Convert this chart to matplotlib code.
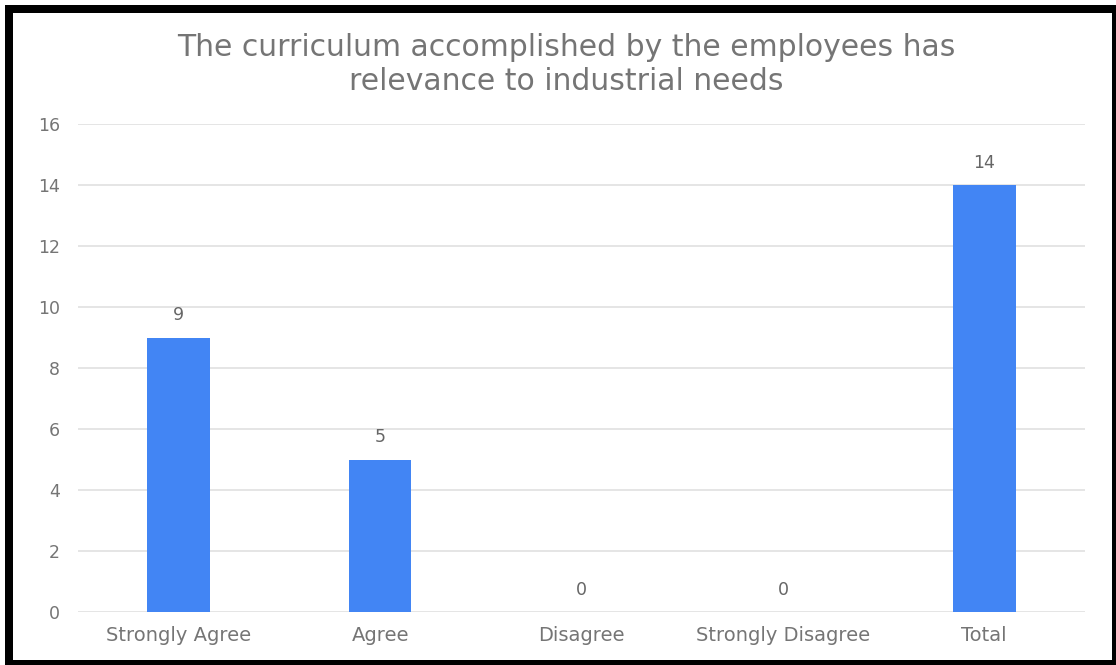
import matplotlib
matplotlib.use("Agg")
import matplotlib.pyplot as plt
from matplotlib.patches import Rectangle

categories = ["Strongly Agree", "Agree", "Disagree", "Strongly Disagree", "Total"]
values = [9, 5, 0, 0, 14]
yticks = [0, 2, 4, 6, 8, 10, 12, 14, 16]
title = "The curriculum accomplished by the employees has\nrelevance to industrial needs"

W, H = 1116, 665
fig = plt.figure(figsize=(W / 100, H / 100), dpi=100)
plt.rcParams['font.family'] = ['DejaVu Sans']

# outer black frame
fig.patches.append(Rectangle((5 / W, 0), 1 - 5 / W, (H - 5) / H, transform=fig.transFigure,
                             facecolor="black", edgecolor="none", zorder=-2))
fig.patches.append(Rectangle((13 / W, 5 / H), (1112 - 13) / W, (H - 13 - 5) / H,
                             transform=fig.transFigure, facecolor="white", edgecolor="none", zorder=-1))

left, right = 78 / W, 1085 / W
bottom, top = (H - 612) / H, (H - 124) / H
ax = fig.add_axes([left, bottom, right - left, top - bottom])
ax.set_facecolor("none")

x = list(range(len(categories)))
bar_color = "#4285F4"
text_color = "#757575"
ax.bar(x, values, width=0.31, color=bar_color, zorder=3)
for xi, v in zip(x, values):
    ax.annotate(str(v), (xi, v), xytext=(0, 9.5), textcoords="offset points",
                ha="center", va="bottom", fontsize=12.5, color="#666666")

ax.set_xlim(-0.5, len(categories) - 0.5)
ax.set_ylim(0, 16)
ax.set_yticks(yticks)
ax.set_yticklabels([str(t) for t in yticks])
ax.set_xticks(x)
ax.set_xticklabels(categories)
ax.grid(axis="y", color="#e0e0e0", linewidth=1.2, zorder=0)
ax.set_axisbelow(True)
for s in ax.spines.values():
    s.set_visible(False)
ax.tick_params(axis="y", length=0, pad=13, labelsize=12.5, labelcolor=text_color)
ax.tick_params(axis="x", length=0, pad=10, labelsize=14, labelcolor=text_color)

fig.text(566 / W, (H - 33) / H, title, ha="center", va="top", fontsize=21.5,
         color=text_color, linespacing=1.2)

fig.savefig("out.png", dpi=100)
